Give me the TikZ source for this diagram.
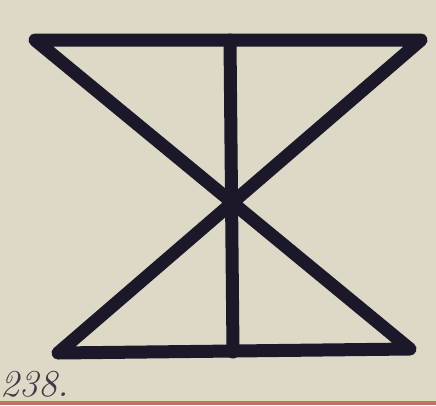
\documentclass[tikz,border=0pt]{standalone}
\begin{document}
\begin{tikzpicture}[x=1pt,y=-1pt,
  stroke/.style={line width=13pt,draw=inkc,line join=round,line cap=round},
  lbl/.style={font=\itshape\fontsize{38}{38}\selectfont,text=inkc!85,inner sep=0pt,anchor=west}]
\definecolor{paper}{HTML}{DDD9C6}
\definecolor{inkc}{HTML}{1C1729}
\definecolor{redband}{HTML}{C9705E}
\fill[paper] (0,0) rectangle (436,405);
\fill[redband] (0,401) rectangle (436,405);
\useasboundingbox (0,0) rectangle (436,405);
\coordinate (tl) at (35,40);
\coordinate (tr) at (421,40);
\coordinate (bl) at (58,353);
\coordinate (br) at (410,349);
\coordinate (vt) at (230,40);
\coordinate (vb) at (233,352);
\draw[stroke] (tl) -- (tr) -- (bl) -- (br) -- cycle;
\draw[stroke] (vt) -- (vb);
\node[lbl] (num) at (0,384) {238.};
\end{tikzpicture}
\end{document}
